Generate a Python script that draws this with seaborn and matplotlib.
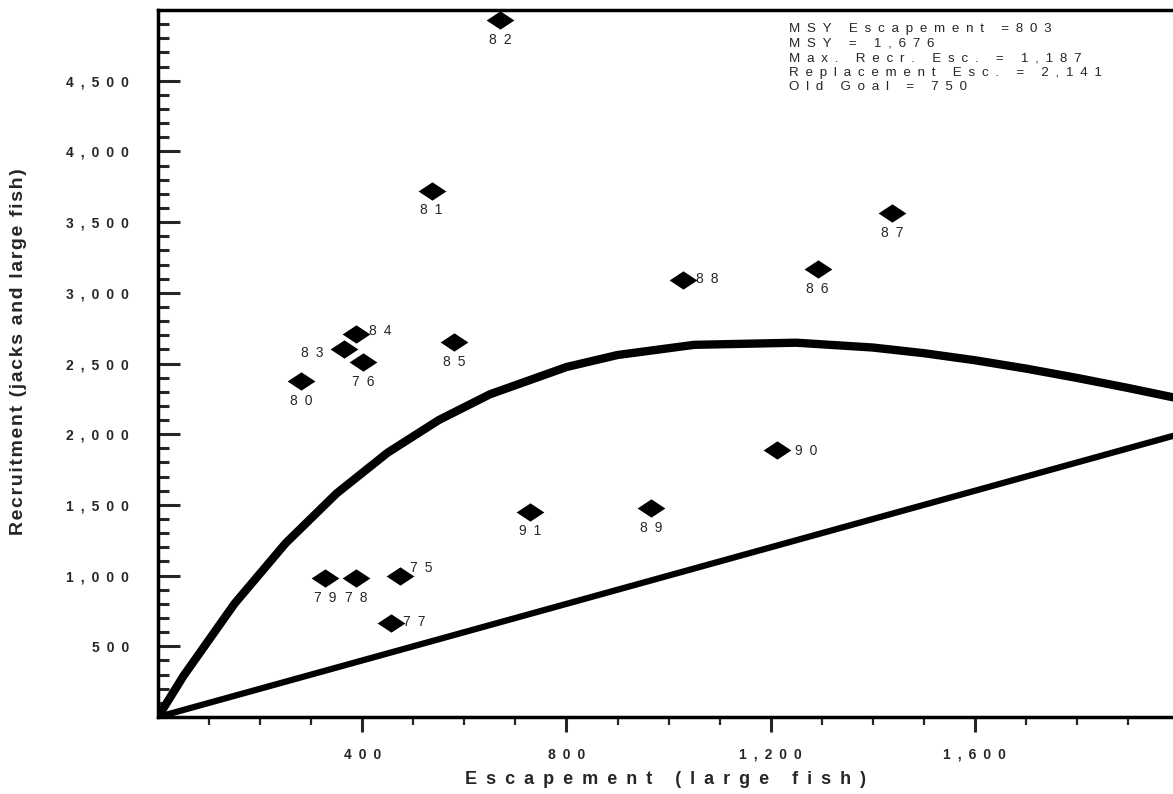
import numpy as np
import pandas as pd
import matplotlib
matplotlib.use("Agg")
import matplotlib.pyplot as plt
from matplotlib.path import Path
from matplotlib.ticker import FixedLocator, FuncFormatter
import seaborn as sns

# ---------------- data ----------------
years = ["75", "76", "77", "78", "79", "80", "81", "82", "83",
         "84", "85", "86", "87", "88", "89", "90", "91"]
escapement = [474, 402, 456, 388, 327, 281, 536, 670, 364,
              388, 580, 1292, 1438, 1029, 966, 1213, 729]
recruitment = [997, 2510, 665, 983, 983, 2376, 3720, 4929, 2602,
               2708, 2652, 3168, 3564, 3090, 1478, 1888, 1450]

curve_esc = [0, 50, 150, 250, 350, 450, 550, 650, 800, 900, 1050,
             1250, 1400, 1500, 1600, 1700, 1800, 1900, 2000]
curve_rec = [0, 291, 802, 1229, 1582, 1870, 2100, 2282, 2475, 2560, 2632,
             2647, 2613, 2573, 2523, 2464, 2398, 2327, 2252]

replace_esc = [0, 2000]
replace_rec = [0, 2000]

x_major = [400, 800, 1200, 1600]
y_major = [500, 1000, 1500, 2000, 2500, 3000, 3500, 4000, 4500]

stats_lines = ["MSY Escapement =803",
               "MSY = 1,676",
               "Max. Recr. Esc. = 1,187",
               "Replacement Esc. = 2,141",
               "Old Goal = 750"]

x_label = "Escapement (large fish)"
y_label = "Recruitment (jacks and large fish)"

# ---------------- style ----------------
sns.set_style("white")
FAM = ["Liberation Sans", "DejaVu Sans"]
plt.rcParams["font.family"] = FAM


def spaced(s, gap="\u2002"):
    return gap.join(list(s))


fig = plt.figure(figsize=(11.73, 7.94), dpi=100)
ax = fig.add_axes([158 / 1173, 77 / 794, 1 - 158 / 1173, (717 - 10) / 794])

pts = pd.DataFrame({"esc": escapement, "rec": recruitment, "year": years})
curve = pd.DataFrame({"esc": curve_esc, "rec": curve_rec})
repl = pd.DataFrame({"esc": replace_esc, "rec": replace_rec})

sns.lineplot(data=curve, x="esc", y="rec", color="black", linewidth=6,
             sort=False, ax=ax)
sns.lineplot(data=repl, x="esc", y="rec", color="black", linewidth=4.5,
             sort=False, ax=ax)

diamond = Path([(-1, 0), (0, 0.66), (1, 0), (0, -0.66), (-1, 0)],
               [Path.MOVETO, Path.LINETO, Path.LINETO, Path.LINETO, Path.CLOSEPOLY])
sns.scatterplot(data=pts, x="esc", y="rec", marker=diamond, s=20 ** 2,
                color="black", edgecolor="black", linewidth=0, ax=ax, zorder=5)

# label placement relative to the marker (offset in points)
placement = {"75": ("left", (7, 6)), "77": ("left", (9, 1)), "84": ("left", (9, 2)),
             "88": ("left", (9, 1)), "90": ("left", (13, -1)), "83": ("right", (-15, -3))}
for x, y, yr in zip(escapement, recruitment, years):
    txt = spaced(yr)
    if yr in placement:
        ha, off = placement[yr]
        ax.annotate(txt, (x, y), xytext=off, textcoords="offset points",
                    ha=ha, va="center", fontsize=10)
    else:
        ax.annotate(txt, (x, y), xytext=(0, -9), textcoords="offset points",
                    ha="center", va="top", fontsize=10)

ax.set_xlim(0, 1988)
ax.set_ylim(0, 5000)

ax.xaxis.set_major_locator(FixedLocator(x_major))
ax.xaxis.set_minor_locator(FixedLocator([v for v in range(100, 2000, 100) if v not in x_major]))
ax.yaxis.set_major_locator(FixedLocator(y_major))
ax.yaxis.set_minor_locator(FixedLocator([v for v in range(100, 5000, 100) if v not in y_major]))

fmt = FuncFormatter(lambda v, p: spaced(f"{int(v):,}"))
ax.xaxis.set_major_formatter(fmt)
ax.yaxis.set_major_formatter(fmt)

ax.tick_params(axis="x", which="major", direction="out", length=11, width=2.2,
               pad=11, labelsize=10, bottom=True)
ax.tick_params(axis="x", which="minor", direction="out", length=6, width=1.6, bottom=True)
ax.tick_params(axis="y", which="major", direction="in", length=16, width=2.2,
               pad=21, labelsize=10, left=True)
ax.tick_params(axis="y", which="minor", direction="in", length=8, width=2.2, left=True)
for lab in ax.get_xticklabels() + ax.get_yticklabels():
    lab.set_fontweight("bold")

for side in ["left", "bottom", "top"]:
    ax.spines[side].set_visible(True)
    ax.spines[side].set_color("black")
    ax.spines[side].set_linewidth(2.5)
ax.spines["right"].set_visible(False)

ax.set_xlabel(spaced(x_label), fontsize=13, fontweight="bold")
ax.xaxis.set_label_coords(0.5, (717 - 780) / 707)
ax.xaxis.label.set_va("center")
ax.set_ylabel(spaced(y_label, "\u200a"), fontsize=14, fontweight="bold")
ax.yaxis.set_label_coords((19 - 158) / 1015, (717 - 352) / 707)
ax.yaxis.label.set_va("center")

ax.text((789 - 158) / 1015, 1 - 13 / 707, "\n".join(spaced(s) for s in stats_lines),
        transform=ax.transAxes, ha="left", va="top", fontsize=9.6,
        linespacing=1.28)

fig.savefig("out.png", dpi=100)
